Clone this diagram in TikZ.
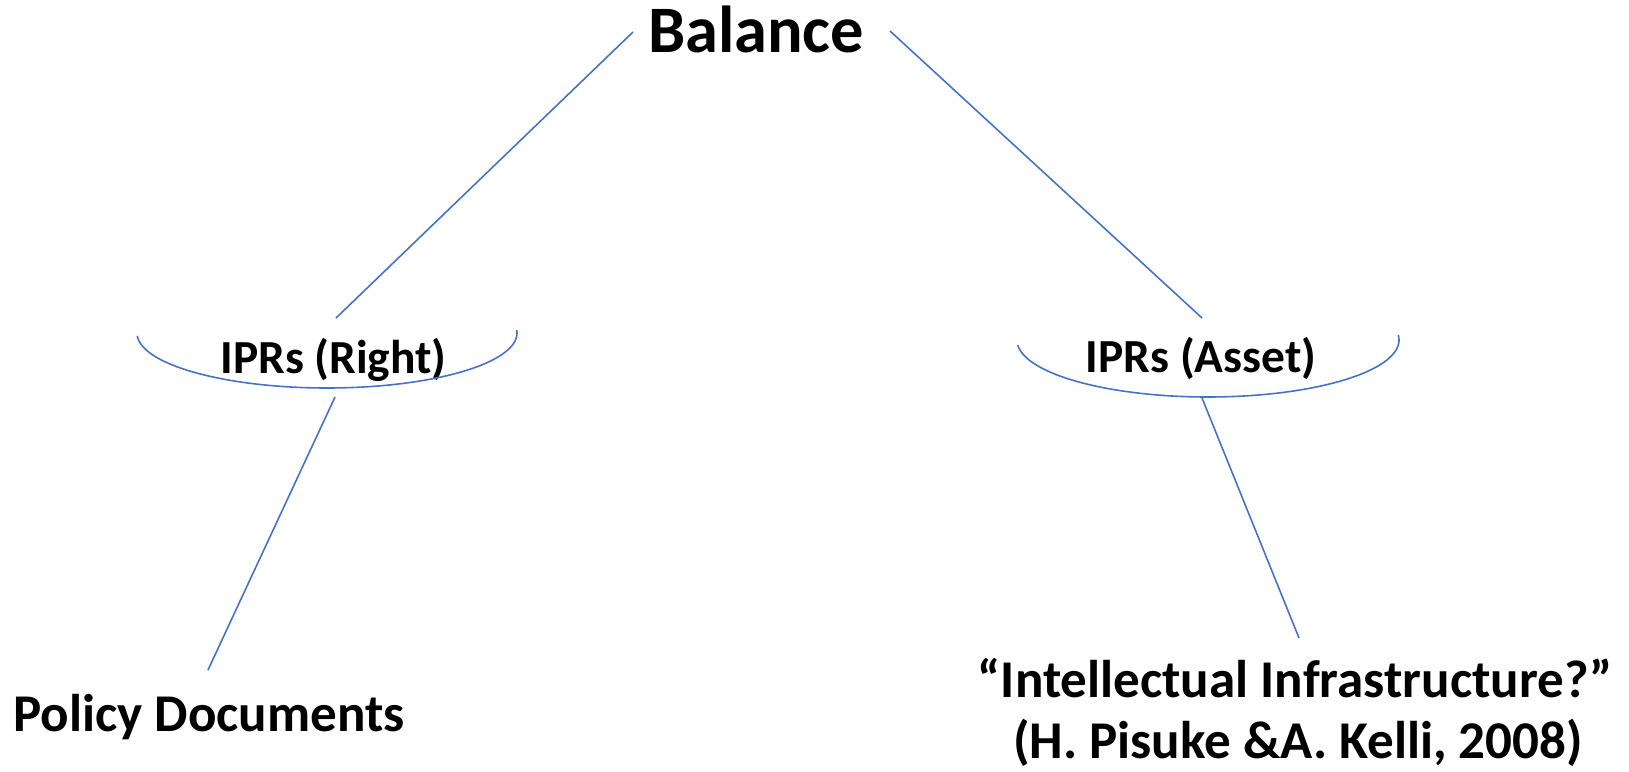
\documentclass[tikz,border=0pt]{standalone}
\usepackage{fontspec}
\setmainfont{Carlito}
\usepackage{tikz}
\usetikzlibrary{arrows}
\definecolor{linkblue}{HTML}{4472C4}
\tikzstyle{lbl}=[inner sep=0pt, anchor=base]
\tikzstyle{top}=[lbl, font=\fontsize{18.9}{22}\selectfont\bfseries]
\tikzstyle{mid}=[lbl, font=\fontsize{13.5}{16}\selectfont\bfseries]
\tikzstyle{low}=[lbl, font=\fontsize{15.1}{17}\selectfont\bfseries]
\tikzstyle{link}=[draw=linkblue, line width=0.45pt]
\tikzstyle{pan}=[draw=linkblue, line width=0.45pt]

\begin{document}
\begin{tikzpicture}
	\useasboundingbox (0,0) rectangle (16.29,-7.71);
	% texts
	\draw (7.56,-0.53) node[top] (bal) {Balance};
	\draw (3.335,-3.73) node[mid] (ipRight) {IPRs (Right)};
	\draw (12.01,-3.72) node[mid] (ipAsset) {IPRs (Asset)};
	\draw (2.09,-7.31) node[low] (policy) {Policy Documents};
	\draw (12.95,-6.97) node[low] (infra) {“Intellectual Infrastructure?”};
	\draw (12.98,-7.58) node[low] (cite) {(H. Pisuke \&A. Kelli, 2008)};
	% pans
	\coordinate (panRight) at (3.27,-3.33);
	\coordinate (panAsset) at (12.08,-3.40);
	\draw[pan] ([shift={(183:1.9 and 0.55)}]panRight) arc[start angle=183, end angle=363, x radius=1.9, y radius=0.55];
	\draw[pan] ([shift={(185:1.91 and 0.57)}]panAsset) arc[start angle=185, end angle=365, x radius=1.91, y radius=0.57];
	% line ends
	\coordinate (balL) at (6.33,-0.32);
	\coordinate (balR) at (8.90,-0.31);
	\coordinate (rightTop) at (3.36,-3.18);
	\coordinate (assetTop) at (12.02,-3.18);
	\coordinate (rightBot) at (3.35,-3.97);
	\coordinate (assetBot) at (12.02,-3.98);
	\coordinate (policyTop) at (2.08,-6.70);
	\coordinate (infraTop) at (12.99,-6.38);
	\draw[link] (balL) -- (rightTop);
	\draw[link] (balR) -- (assetTop);
	\draw[link] (rightBot) -- (policyTop);
	\draw[link] (assetBot) -- (infraTop);
\end{tikzpicture}
\end{document}
